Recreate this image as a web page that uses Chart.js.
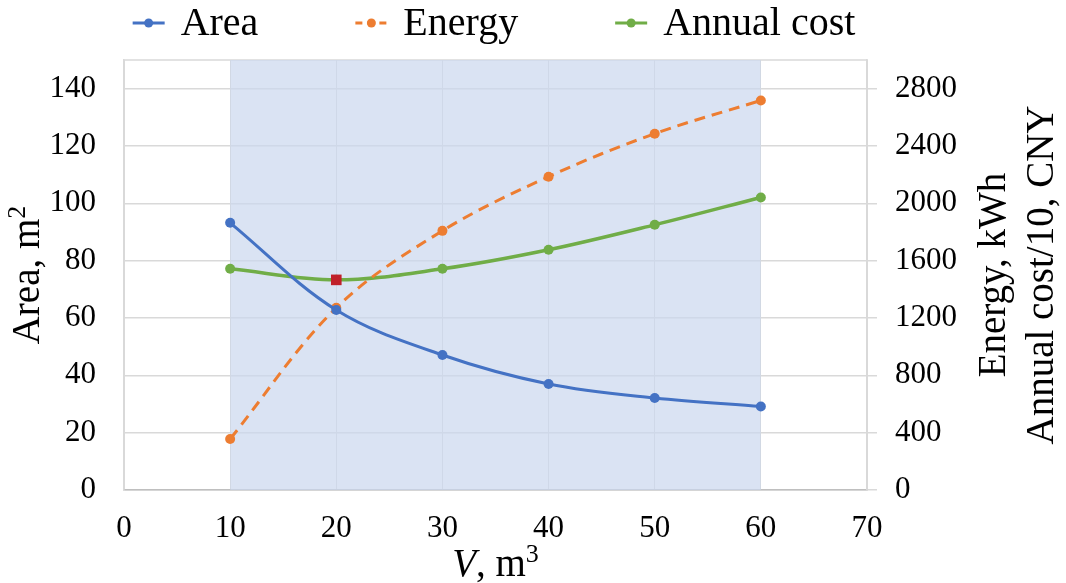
<!DOCTYPE html>
<html><head><meta charset="utf-8">
<script src="https://cdn.jsdelivr.net/npm/chart.js@4.4.1/dist/chart.umd.min.js"></script>
<style>html,body{margin:0;padding:0;background:#fff;overflow:hidden}#wrap{width:1066px;height:583px}</style>
</head><body><div id="wrap"><canvas id="c" width="1066" height="583"></canvas></div>
<script>
// ---- data ----
const volumes = [10, 20, 30, 40, 50, 60];
const area = [93.2, 62.8, 47.1, 37.0, 32.1, 29.1];
const energy = [356, 1271, 1808, 2186, 2486, 2718];
const annualCost = [1543, 1466, 1543, 1676, 1850, 2041];
const optimumVolume = [20];
const optimumCost = [1466];
const shadedRange = [10, 60];
const xTicks = [0, 10, 20, 30, 40, 50, 60, 70];
const leftTicks = [0, 20, 40, 60, 80, 100, 120, 140];
const rightTicks = [0, 400, 800, 1200, 1600, 2000, 2400, 2800];
const seriesNames = ['Area', 'Energy', 'Annual cost'];

const FONT = "'Liberation Serif', 'Times New Roman', serif";
const BLUE = '#4472C4', ORANGE = '#ED7D31', GREEN = '#70AD47';
const GRID = '#d9d9d9';

const pts = (xs, ys) => xs.map((x, i) => ({ x: x, y: ys[i] }));

const legendPlugin = {
  id: 'customLegend',
  afterDraw(chart) {
    const ctx = chart.ctx;
    const items = chart.data.datasets.filter(d => seriesNames.includes(d.label));
    const markerW = 32, gap = 16, spacing = 97;
    ctx.save();
    ctx.font = '40px ' + FONT;
    const widths = items.map(d => ctx.measureText(d.label).width);
    const total = widths.reduce((a, b) => a + b, 0) + items.length * (markerW + gap) + (items.length - 1) * spacing;
    let x = 494 - total / 2;
    const yMark = 23, yText = 35;
    items.forEach((d, i) => {
      ctx.strokeStyle = d.borderColor;
      ctx.lineWidth = 3;
      ctx.setLineDash(d.borderDash ? [7, 5] : []);
      ctx.beginPath(); ctx.moveTo(x, yMark); ctx.lineTo(x + markerW, yMark); ctx.stroke();
      ctx.setLineDash([]);
      ctx.fillStyle = d.borderColor;
      ctx.beginPath(); ctx.arc(x + markerW / 2, yMark, 4.5, 0, Math.PI * 2); ctx.fill();
      ctx.fillStyle = '#000';
      ctx.textBaseline = 'alphabetic';
      ctx.textAlign = 'left';
      ctx.fillText(d.label, x + markerW + gap, yText);
      x += markerW + gap + widths[i] + spacing;
    });
    ctx.restore();
  }
};

const frame = {
  id: 'frame',
  beforeDatasetsDraw(chart) {
    const a = chart.chartArea, ctx = chart.ctx;
    ctx.save();
    ctx.strokeStyle = GRID; ctx.lineWidth = 1.5;
    ctx.beginPath();
    ctx.moveTo(a.left, a.top); ctx.lineTo(a.right, a.top); ctx.lineTo(a.right, a.bottom);
    ctx.stroke();
    ctx.restore();
  }
};

function drawSup(ctx, parts, x, y, align) {
  let total = 0;
  const fonts = parts.map(p => {
    const size = p.sup ? 26 : 39;
    const f = (p.style === 'italic' ? 'italic ' : '') + size + 'px ' + FONT;
    ctx.font = f;
    const w = ctx.measureText(p.t).width;
    total += w;
    return { f, w };
  });
  let cx = align === 'center' ? x - total / 2 : x;
  parts.forEach((p, i) => {
    ctx.font = fonts[i].f;
    ctx.fillText(p.t, cx, p.sup ? y - 14 : y);
    cx += fonts[i].w;
  });
}

const axisTitles = {
  id: 'axisTitles',
  afterDraw(chart) {
    const a = chart.chartArea, ctx = chart.ctx;
    const cy = (a.top + a.bottom) / 2, cx = (a.left + a.right) / 2;
    ctx.save();
    ctx.fillStyle = '#000';
    ctx.textAlign = 'left';
    ctx.textBaseline = 'alphabetic';
    drawSup(ctx, [{ t: 'V', style: 'italic' }, { t: ', m' }, { t: '3', sup: true }], cx, 576, 'center');
    ctx.save(); ctx.translate(39, cy); ctx.rotate(-Math.PI / 2);
    drawSup(ctx, [{ t: 'Area, m' }, { t: '2', sup: true }], 0, 0, 'center');
    ctx.restore();
    ctx.font = '39px ' + FONT;
    ctx.textAlign = 'center';
    ctx.save(); ctx.translate(1005, cy); ctx.rotate(-Math.PI / 2);
    ctx.fillText('Energy, kWh', 0, 0); ctx.restore();
    ctx.save(); ctx.translate(1053, cy); ctx.rotate(-Math.PI / 2);
    ctx.fillText('Annual cost/10, CNY', 0, 0); ctx.restore();
    ctx.restore();
  }
};

const tickFont = { family: FONT, size: 31 };
const plain = v => String(v);

new Chart(document.getElementById('c'), {
  type: 'line',
  data: {
    datasets: [
      {
        label: 'shade', data: [{ x: shadedRange[0], y: 150 }, { x: shadedRange[1], y: 150 }],
        yAxisID: 'y', fill: 'origin', backgroundColor: 'rgba(202,215,238,0.7)',
        borderWidth: 0, pointRadius: 0, order: 10, tension: 0
      },
      {
        label: seriesNames[0], data: pts(volumes, area), yAxisID: 'y',
        borderColor: BLUE, backgroundColor: BLUE, borderWidth: 3,
        pointRadius: 5, pointBorderWidth: 0, tension: 0.35, order: 1, fill: false
      },
      {
        label: seriesNames[1], data: pts(volumes, energy), yAxisID: 'y2',
        borderColor: ORANGE, backgroundColor: ORANGE, borderWidth: 3, borderDash: [11, 7],
        pointRadius: 5, pointBorderWidth: 0, tension: 0.35, order: 2, fill: false
      },
      {
        label: seriesNames[2], data: pts(volumes, annualCost), yAxisID: 'y2',
        borderColor: GREEN, backgroundColor: GREEN, borderWidth: 3.5,
        pointRadius: 5, pointBorderWidth: 0, tension: 0.35, order: 3, fill: false
      },
      {
        label: 'optimum', data: pts(optimumVolume, optimumCost), yAxisID: 'y2',
        showLine: false, pointStyle: 'rect', pointRadius: 7.5, pointBorderWidth: 0,
        backgroundColor: '#C0202A', borderColor: '#C0202A', order: -1
      }
    ]
  },
  options: {
    responsive: false, animation: false, devicePixelRatio: 1,
    layout: { padding: { top: 60, left: 0, right: 0, bottom: 0 } },
    plugins: { tooltip: { enabled: false }, legend: { display: false } },
    scales: {
      x: {
        type: 'linear', min: 0, max: 70,
        afterBuildTicks: s => { s.ticks = xTicks.map(v => ({ value: v })); },
        afterFit: s => { s.height = 93; },
        grid: { color: GRID, drawTicks: false, lineWidth: 1 },
        border: { color: '#bfbfbf', width: 1.5 },
        ticks: { font: tickFont, color: '#000', padding: 20, maxRotation: 0, callback: plain }
      },
      y: {
        position: 'left', min: 0, max: 150,
        afterBuildTicks: s => { s.ticks = leftTicks.map(v => ({ value: v })); },
        afterFit: s => { s.width = 124; },
        grid: { color: GRID, drawTicks: false, lineWidth: 1.5 },
        border: { color: GRID, width: 1.5 },
        ticks: { font: tickFont, color: '#000', padding: 28, callback: plain }
      },
      y2: {
        position: 'right', min: 0, max: 3000,
        afterBuildTicks: s => { s.ticks = rightTicks.map(v => ({ value: v })); },
        afterFit: s => { s.width = 199; },
        grid: { color: GRID, drawOnChartArea: false, drawTicks: true, tickLength: 10, lineWidth: 1.5 },
        border: { color: GRID, width: 1.5 },
        ticks: { font: tickFont, color: '#000', padding: 18, callback: plain }
      }
    }
  },
  plugins: [legendPlugin, frame, axisTitles]
});
</script></body></html>
